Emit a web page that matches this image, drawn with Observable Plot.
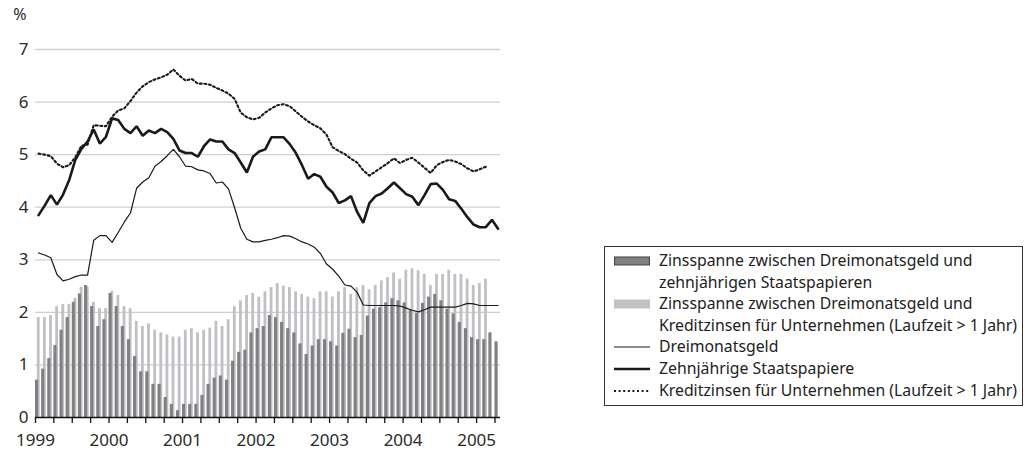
<!DOCTYPE html>
<html><head><meta charset="utf-8">
<script src="https://cdn.jsdelivr.net/npm/d3@7"></script>
<script src="https://cdn.jsdelivr.net/npm/@observablehq/plot@0.6"></script>
<style>
body{margin:0;background:#fff;font-family:"Noto Sans",sans-serif;}
#wrap{position:relative;width:1029px;height:452px;}
#legend{position:absolute;left:604px;top:246px;width:419px;border:1.3px solid #333;box-sizing:border-box;padding:3px 0 4px 9px;font-size:15.8px;color:#222;line-height:21.6px;}
.item{display:flex;align-items:flex-start;margin-bottom:0}
.sw{width:36px;height:21.6px;flex:none;margin-right:9px;display:block}
</style></head><body><div id="wrap"><div id="chart"></div><div id="legend"></div></div>
<script>
const years = ["1999","2000","2001","2002","2003","2004","2005"];
const yTicks = [0,1,2,3,4,5,6,7];
const legendLabels = [
  "Zinsspanne zwischen Dreimonatsgeld und<br>zehnjährigen Staatspapieren",
  "Zinsspanne zwischen Dreimonatsgeld und<br>Kreditzinsen für Unternehmen (Laufzeit &gt; 1 Jahr)",
  "Dreimonatsgeld",
  "Zehnjährige Staatspapiere",
  "Kreditzinsen für Unternehmen (Laufzeit &gt; 1 Jahr)"
];
// monthly, Jan 1999 .. Apr 2005
const dreimonatsgeld = [3.13,3.09,3.04,2.72,2.60,2.63,2.68,2.71,2.71,3.37,3.46,3.46,
  3.33,3.52,3.72,3.89,4.36,4.48,4.56,4.78,4.87,4.98,5.10,4.96,
  4.78,4.77,4.71,4.69,4.64,4.46,4.48,4.35,3.99,3.60,3.39,3.34,
  3.34,3.37,3.39,3.42,3.46,3.45,3.40,3.34,3.30,3.24,3.12,2.92,
  2.82,2.69,2.52,2.50,2.38,2.14,2.13,2.13,2.13,2.13,2.13,2.12,
  2.08,2.04,2.01,2.05,2.10,2.10,2.10,2.10,2.10,2.13,2.17,2.16,
  2.13,2.13,2.13,2.13];
const zehnjaehrige = [3.85,4.03,4.23,4.05,4.24,4.52,4.90,5.11,5.25,5.48,5.21,5.34,
  5.69,5.66,5.49,5.41,5.54,5.36,5.46,5.41,5.49,5.43,5.30,5.08,
  5.03,5.03,4.96,5.16,5.29,5.25,5.25,5.10,5.03,4.85,4.66,4.96,
  5.06,5.10,5.33,5.33,5.33,5.20,5.03,4.80,4.54,4.63,4.58,4.39,
  4.28,4.08,4.13,4.21,3.91,3.70,4.08,4.21,4.26,4.36,4.47,4.36,
  4.25,4.20,4.04,4.23,4.44,4.45,4.33,4.15,4.12,3.97,3.81,3.67,
  3.62,3.62,3.76,3.59];
const kreditzinsen = [5.02,5.00,4.97,4.83,4.76,4.80,4.95,5.17,5.19,5.56,5.55,5.54,
  5.72,5.84,5.88,6.02,6.18,6.30,6.38,6.43,6.47,6.52,6.62,6.50,
  6.41,6.44,6.35,6.35,6.33,6.27,6.22,6.16,6.06,5.80,5.71,5.67,
  5.70,5.80,5.88,5.94,5.96,5.92,5.82,5.72,5.63,5.56,5.50,5.38,
  5.14,5.07,5.01,4.92,4.85,4.70,4.60,4.68,4.76,4.84,4.93,4.84,
  4.90,4.94,4.85,4.75,4.65,4.80,4.86,4.90,4.87,4.82,4.74,4.68,
  4.72,4.77];
const spanneStaat = [0.71,0.92,1.12,1.37,1.66,1.90,2.19,2.35,2.51,2.11,1.73,1.86,
  2.36,2.11,1.73,1.48,1.16,0.87,0.87,0.63,0.63,0.38,0.25,0.13,
  0.25,0.25,0.25,0.42,0.63,0.75,0.79,0.71,1.07,1.24,1.28,1.61,
  1.69,1.73,1.94,1.90,1.81,1.69,1.61,1.40,1.20,1.36,1.48,1.48,
  1.44,1.36,1.60,1.68,1.52,1.56,1.93,2.06,2.09,2.18,2.26,2.22,
  2.18,2.04,1.98,2.17,2.29,2.34,2.22,2.06,1.97,1.81,1.69,1.52,
  1.48,1.48,1.61,1.44];
const spanneKredit = [1.90,1.90,1.94,2.11,2.15,2.15,2.27,2.48,2.48,2.19,2.07,2.07,
  2.40,2.32,2.11,2.07,1.83,1.73,1.78,1.66,1.61,1.57,1.53,1.53,
  1.66,1.69,1.61,1.66,1.70,1.83,1.73,1.86,2.11,2.22,2.32,2.36,
  2.29,2.39,2.47,2.55,2.50,2.47,2.39,2.34,2.29,2.26,2.39,2.39,
  2.29,2.39,2.47,2.34,2.47,2.51,2.43,2.51,2.60,2.66,2.75,2.63,
  2.80,2.83,2.79,2.72,2.51,2.72,2.72,2.80,2.72,2.72,2.63,2.51,
  2.55,2.63];

const C_DARK = "#808083", C_LIGHT = "#c1c1c5", C_LINE = "#1a1a1a";
const n = dreimonatsgeld.length;
const quarterTicks = d3.range(0, n, 3);
const idx = a => a.map((v, i) => ({i, v}));

const chart = Plot.plot({
  width: 520, height: 452,
  marginLeft: 35, marginRight: 20, marginTop: 49, marginBottom: 35,
  style: {fontFamily: "'Noto Sans', sans-serif", fontSize: "17px", color: "#2a2a2a", background: "white"},
  x: {type: "linear", domain: [0, 75.9]},
  y: {domain: [0, 7]},
  marks: [
    Plot.gridY(yTicks.slice(1), {stroke: "#cfcfcf", strokeOpacity: 1, strokeWidth: 1.3}),
    Plot.rect(idx(spanneKredit), {x1: d => d.i + 0.3, x2: d => d.i + 0.76, y1: 0, y2: "v", fill: C_LIGHT}),
    Plot.rect(idx(spanneStaat), {x1: d => d.i, x2: d => d.i + 0.51, y1: 0, y2: "v", fill: C_DARK}),
    Plot.line(idx(dreimonatsgeld), {x: d => d.i + 0.5, y: "v", stroke: C_LINE, strokeWidth: 1.2}),
    Plot.line(idx(kreditzinsen), {x: d => d.i + 0.5, y: "v", stroke: C_LINE, strokeWidth: 2.1, strokeDasharray: "2,2.6"}),
    Plot.line(idx(zehnjaehrige), {x: d => d.i + 0.5, y: "v", stroke: C_LINE, strokeWidth: 2.6, strokeLinejoin: "miter"}),
    Plot.ruleY([0], {stroke: "#111", strokeWidth: 1.3}),
    Plot.axisY({ticks: yTicks, tickSize: 0, tickPadding: 7, label: null, fontSize: 17, tickFormat: d => String(d)}),
    Plot.axisX({ticks: quarterTicks, tickSize: 6, tickPadding: 10, label: null, stroke: "#111", strokeWidth: 1.3,
      tickFormat: d => d % 12 === 0 ? years[d / 12] : "", fontSize: 17}),
    Plot.text(["%"], {frameAnchor: "top-left", dx: -15.5, dy: -35, textAnchor: "middle", lineAnchor: "middle", fontSize: 16})
  ]
});
document.getElementById("chart").appendChild(chart);

// legend
const swatches = [
  `<svg class="sw" viewBox="0 0 36 21.6"><rect x="0.5" y="7" width="35" height="8" fill="${C_DARK}" stroke="#444" stroke-width="1"/></svg>`,
  `<svg class="sw" viewBox="0 0 36 21.6"><rect x="0" y="6.5" width="36" height="9" fill="${C_LIGHT}"/></svg>`,
  `<svg class="sw" viewBox="0 0 36 21.6"><line x1="0" x2="36" y1="11" y2="11" stroke="${C_LINE}" stroke-width="1.2"/></svg>`,
  `<svg class="sw" viewBox="0 0 36 21.6"><line x1="0" x2="36" y1="11" y2="11" stroke="${C_LINE}" stroke-width="2.6"/></svg>`,
  `<svg class="sw" viewBox="0 0 36 21.6"><line x1="0" x2="36" y1="11" y2="11" stroke="${C_LINE}" stroke-width="2.1" stroke-dasharray="2,2.6"/></svg>`
];
document.getElementById("legend").innerHTML = legendLabels.map((t, k) =>
  `<div class="item">${swatches[k]}<div>${t}</div></div>`).join("");
</script></body></html>
